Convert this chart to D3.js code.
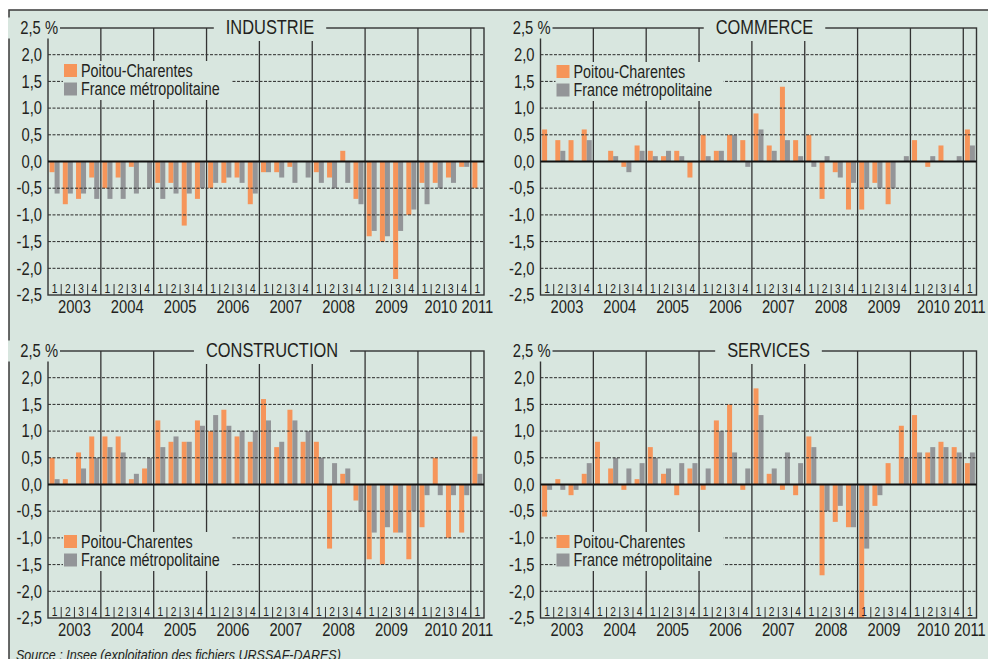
<!DOCTYPE html>
<html lang="fr">
<head>
<meta charset="UTF-8">
<title>Emploi salarié par secteur</title>
<script src="https://d3js.org/d3.v7.min.js"></script>
<style>
  * { margin: 0; padding: 0; }
  body { background: #fff; width: 988px; height: 659px; overflow: hidden; }
  svg { display: block; font-family: 'Liberation Sans', Arial, sans-serif; fill: #231f20; }
</style>
</head>
<body>
<svg id="chart" width="988" height="659"></svg>
<script>
// Quarters 2003 T1 .. 2011 T1
const years = ['2003', '2004', '2005', '2006', '2007', '2008', '2009', '2010', '2011'];
const quarters = years.flatMap(y => y === '2011' ? [y + '-1'] : [1, 2, 3, 4].map(q => y + '-' + q));

const yTicks = [2.5, 2.0, 1.5, 1.0, 0.5, 0.0, -0.5, -1.0, -1.5, -2.0, -2.5];
const yTickLabels = ['2,5 %', '2,0', '1,5', '1,0', '0,5', '0,0', '-0,5', '-1,0', '-1,5', '-2,0', '-2,5'];
const seriesNames = ['Poitou-Charentes', 'France métropolitaine'];

// Variation trimestrielle de l'emploi salarié (%)
const industriePC = [-0.2, -0.8, -0.7, -0.3, -0.5, -0.3, -0.1, 0, -0.4, -0.4, -1.2, -0.7, -0.5, -0.4, -0.3, -0.8,
  -0.2, -0.2, -0.1, 0, -0.2, -0.3, 0.2, -0.7, -1.4, -1.5, -2.2, -1.0, -0.4, -0.4, -0.3, -0.1, -0.5];
const industrieFR = [-0.6, -0.6, -0.6, -0.7, -0.7, -0.7, -0.6, -0.5, -0.7, -0.6, -0.6, -0.5, -0.4, -0.3, -0.4, -0.6,
  -0.2, -0.3, -0.4, -0.3, -0.4, -0.5, -0.4, -0.8, -1.3, -1.4, -1.3, -0.9, -0.8, -0.5, -0.4, -0.1, 0];

const commercePC = [0.6, 0.4, 0.4, 0.6, 0, 0.2, -0.1, 0.3, 0.2, 0.1, 0.2, -0.3, 0.5, 0.2, 0.5, 0.4,
  0.9, 0.3, 1.4, 0.4, 0.5, -0.7, -0.2, -0.9, -0.9, -0.4, -0.8, 0, 0.4, -0.1, 0.3, 0, 0.6];
const commerceFR = [0, 0.2, 0, 0.4, 0, 0.1, -0.2, 0.2, 0.1, 0.2, 0.1, 0, 0.1, 0.2, 0.5, -0.1,
  0.6, 0.2, 0.4, 0.1, -0.1, 0.1, -0.3, -0.4, -0.5, -0.5, -0.5, 0.1, 0, 0.1, 0, 0.1, 0.3];

const constructionPC = [0.5, 0.1, 0.6, 0.9, 0.9, 0.9, 0.1, 0.3, 1.2, 0.8, 0.8, 1.2, 1.0, 1.4, 0.9, 0.8,
  1.6, 0.7, 1.4, 0.8, 0.8, -1.2, 0.2, -0.3, -1.4, -1.5, -0.9, -1.4, -0.8, 0.5, -1.0, -0.9, 0.9];
const constructionFR = [0.1, 0, 0.3, 0.5, 0.7, 0.6, 0.2, 0.5, 0.7, 0.9, 0.8, 1.1, 1.3, 1.1, 1.0, 1.0,
  1.2, 0.8, 1.2, 1.0, 0.5, 0.4, 0.3, -0.5, -0.9, -0.8, -0.9, -0.5, -0.2, -0.2, -0.2, -0.2, 0.2];

const servicesPC = [-0.6, 0.1, -0.2, 0.2, 0.8, 0.3, -0.1, 0.1, 0.7, 0.2, -0.2, 0.3, -0.1, 1.2, 1.5, -0.1,
  1.8, 0.2, -0.1, -0.2, 0.9, -1.7, -0.7, -0.8, -2.5, -0.4, 0.4, 1.1, 1.3, 0.6, 0.8, 0.7, 0.4];
const servicesFR = [-0.1, -0.1, -0.1, 0.4, 0, 0.5, 0.3, 0.4, 0.5, 0.3, 0.4, 0.4, 0.3, 1.0, 0.6, 0.3,
  1.3, 0.3, 0.6, 0.4, 0.7, -0.5, -0.4, -0.8, -1.2, -0.2, 0, 0.5, 0.6, 0.7, 0.7, 0.6, 0.6];

const colors = { pc: '#f6955a', fr: '#939598', bg: '#d8e6df', ink: '#231f20' };
const NARROW = 0.82; // the original uses a condensed face

const panels = [
  { title: 'INDUSTRIE', pc: industriePC, fr: industrieFR, left: 48, top: 28, legendTop: 36, titleShift: 4 },
  { title: 'COMMERCE', pc: commercePC, fr: commerceFR, left: 540.5, top: 28, legendTop: 37, titleShift: 6 },
  { title: 'CONSTRUCTION', pc: constructionPC, fr: constructionFR, left: 48, top: 351, legendTop: 184, titleShift: 6 },
  { title: 'SERVICES', pc: servicesPC, fr: servicesFR, left: 540.5, top: 351, legendTop: 184, titleShift: 10 }
];

const W = 436, H = 267;
const svg = d3.select('#chart');

function narrow(node) {
  const l = node.getComputedTextLength();
  node.setAttribute('textLength', l * NARROW);
  node.setAttribute('lengthAdjust', 'spacingAndGlyphs');
  return l * NARROW;
}

// outer frame
svg.append('rect').attr('x', 9).attr('y', 10).attr('width', 990).attr('height', 660)
  .attr('fill', colors.bg).attr('stroke', '#3a3a3a').attr('stroke-width', 1.5);

const x = d3.scaleBand().domain(quarters).range([0, W]);
const xs = d3.scaleBand().domain(['pc', 'fr']).range([0, x.bandwidth()]).paddingOuter(0.32);
const y = d3.scaleLinear().domain([-2.5, 2.5]).range([H, 0]);

panels.forEach(p => {
  const g = svg.append('g').attr('transform', `translate(${p.left},${p.top})`);

  // bars
  ['pc', 'fr'].forEach(k => {
    g.append('g').selectAll('rect')
      .data(p[k].map((v, i) => ({ q: quarters[i], v })))
      .join('rect')
      .attr('x', d => x(d.q) + xs(k))
      .attr('width', xs.bandwidth())
      .attr('y', d => y(Math.max(0, d.v)))
      .attr('height', d => Math.abs(y(d.v) - y(0)))
      .attr('fill', colors[k]);
  });

  // dashed grid
  g.append('g').selectAll('line')
    .data(yTicks.filter(t => Math.abs(t) < 2.5 && t !== 0))
    .join('line')
    .attr('x1', 0).attr('x2', W)
    .attr('y1', d => y(d)).attr('y2', d => y(d))
    .attr('stroke', '#2a2a2a').attr('stroke-width', 1).attr('stroke-dasharray', '3,1.5');

  // year separators
  const yearStarts = quarters.filter((q, i) => i > 0 && q.endsWith('-1'));
  g.append('g').selectAll('line')
    .data(yearStarts)
    .join('line')
    .attr('x1', d => x(d)).attr('x2', d => x(d))
    .attr('y1', 0).attr('y2', H)
    .attr('stroke', '#333').attr('stroke-width', 1.3);

  // quarter ticks at the bottom
  g.append('g').selectAll('line')
    .data(quarters.filter(q => !q.endsWith('-1')))
    .join('line')
    .attr('x1', d => x(d)).attr('x2', d => x(d))
    .attr('y1', H - 11).attr('y2', H)
    .attr('stroke', '#333').attr('stroke-width', 1);

  // box
  g.append('rect').attr('width', W).attr('height', H)
    .attr('fill', 'none').attr('stroke', '#333').attr('stroke-width', 1.4);

  // zero line
  g.append('line').attr('x1', 0).attr('x2', W).attr('y1', y(0)).attr('y2', y(0))
    .attr('stroke', '#111').attr('stroke-width', 2);

  // y axis labels
  const ax = g.append('g')
    .call(d3.axisLeft(y).tickValues(yTicks).tickSize(0).tickPadding(6)
      .tickFormat((d, i) => yTickLabels[i]));
  ax.attr('font-family', null).attr('font-size', null);
  ax.select('.domain').remove();
  ax.selectAll('text').attr('font-size', 18).attr('fill', colors.ink);
  ax.selectAll('.tick').filter(d => d === 2.5).each(function () {
    const t = d3.select(this);
    t.insert('rect', 'text').attr('x', -40).attr('y', -11).attr('width', 52).attr('height', 21).attr('fill', colors.bg);
    t.select('text').attr('x', 10);
  });

  // title
  const cx = W / 2 + p.titleShift;
  const tbg = g.append('rect').attr('fill', colors.bg);
  const tt = g.append('text').attr('x', cx).attr('y', 6).attr('text-anchor', 'middle')
    .attr('font-size', 20).attr('fill', colors.ink).text(p.title);
  const tw = narrow(tt.node());
  tbg.attr('x', cx - tw / 2 - 12).attr('y', -12).attr('width', tw + 24).attr('height', 25);

  // legend
  const lg = g.append('g').attr('transform', `translate(15,${p.legendTop})`);
  lg.append('rect').attr('x', 0).attr('y', -3).attr('width', 168).attr('height', 39).attr('fill', colors.bg);
  seriesNames.forEach((name, i) => {
    const k = i === 0 ? 'pc' : 'fr';
    lg.append('rect').attr('x', 1).attr('y', i * 18.5).attr('width', 13).attr('height', 13).attr('fill', colors[k]);
    lg.append('text').attr('x', 18).attr('y', i * 18.5 + 12.5).attr('font-size', 17.5).attr('fill', colors.ink).text(name);
  });

  // quarter numbers
  g.append('g').selectAll('text')
    .data(quarters)
    .join('text')
    .attr('x', d => x(d) + x.bandwidth() / 2)
    .attr('y', H - 2)
    .attr('text-anchor', 'middle').attr('font-size', 12.5).attr('fill', colors.ink)
    .text(d => d.split('-')[1]);

  // years (2010 nudged left so it clears the lone 2011 quarter)
  g.append('g').selectAll('text')
    .data(years)
    .join('text')
    .attr('x', yr => {
      const qs = quarters.filter(q => q.startsWith(yr));
      const mid = (x(qs[0]) + x(qs[qs.length - 1]) + x.bandwidth()) / 2;
      return yr === '2010' ? mid - 3.5 : mid;
    })
    .attr('y', H + 18)
    .attr('text-anchor', 'middle').attr('font-size', 18).attr('fill', colors.ink)
    .text(d => d);
});

svg.append('text').attr('x', 16).attr('y', 660).attr('font-size', 15.3).attr('font-style', 'italic')
  .attr('fill', colors.ink).text('Source : Insee (exploitation des fichiers URSSAF-DARES)');

// condense every label except the titles, already done
svg.selectAll('text').filter(function () { return !this.hasAttribute('textLength'); })
  .each(function () { narrow(this); });
</script>
</body>
</html>
